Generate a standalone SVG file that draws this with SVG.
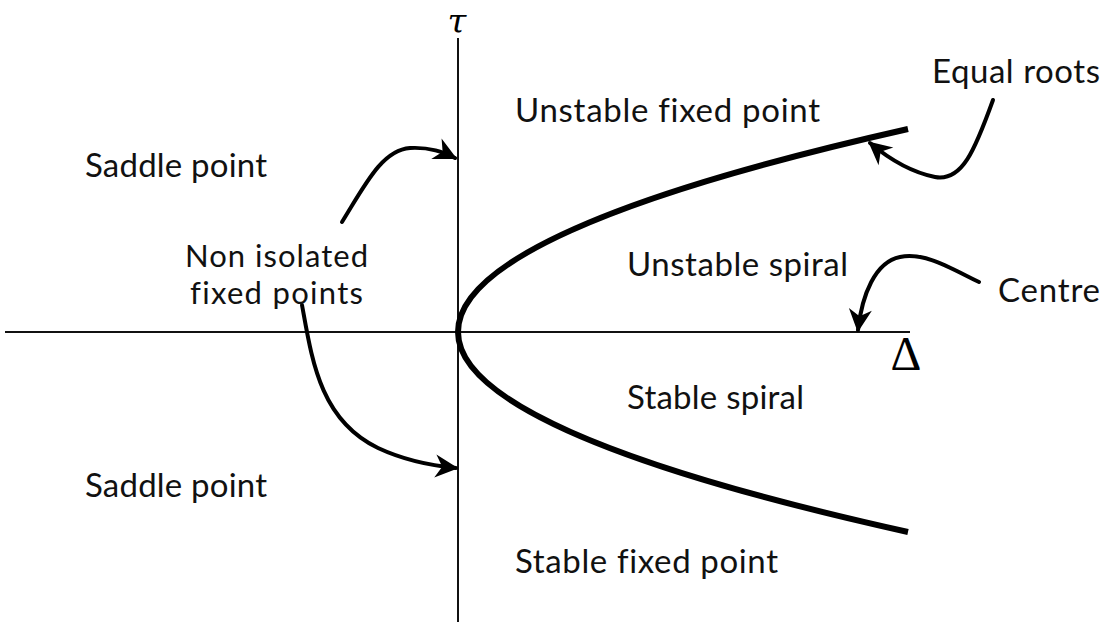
<svg xmlns="http://www.w3.org/2000/svg" width="1107" height="630" viewBox="0 0 1107 630">
<style>
.lbl{font-family:Lato,"Open Sans","Liberation Sans",sans-serif;font-size:33px;fill:#111;font-variant-ligatures:none}
.sm{font-size:31px}
.axis{stroke:#111;stroke-width:2;fill:none}
.arr{stroke:#000;stroke-width:4;fill:none;stroke-linecap:round;marker-end:url(#ah)}
</style>
<defs>
<marker id="ah" markerUnits="userSpaceOnUse" markerWidth="30" markerHeight="30" viewBox="-22 -12 26 24" refX="0" refY="0" orient="auto">
<path d="M2,0 L-18,-10 L-12,0 L-18,10 Z" fill="#000"/>
</marker>
</defs>
<rect width="1107" height="630" fill="#fff"/>
<g id="axes">
<line class="axis" x1="458" y1="38" x2="458" y2="622"/>
<line class="axis" x1="5" y1="332" x2="910" y2="332"/>
<text x="457" y="33" text-anchor="middle" style="font-family:'DejaVu Serif','Liberation Serif',serif;font-style:italic;font-size:34px">τ</text>
<text x="906" y="370" text-anchor="middle" style="font-family:'Liberation Serif','DejaVu Serif',serif;font-size:48px">Δ</text>
</g>
<g id="parabola">
<path d="M908,129 Q458,230.5 458,332 Q458,432 908,532" fill="none" stroke="#000" stroke-width="6"/>
</g>
<g id="connectors">
<path class="arr" d="M993,100 C975,150 962,182 935,177 C910,172 888,158 870,143"/>
<path class="arr" d="M979,282 C950,268 925,252 900,257 C875,262 862,295 858,330"/>
<path class="arr" d="M342,222 C365,185 382,150 410,148 C430,147 443,152 455,158"/>
<path class="arr" d="M302,305 C312,360 320,420 378,448 C408,462 435,466 456,468"/>
</g>
<g id="labels">
<text class="lbl" x="515" y="122" textLength="305">Unstable fixed point</text>
<text class="lbl" x="85" y="177" textLength="182">Saddle point</text>
<text class="lbl sm" x="185" y="267" textLength="183">Non isolated</text>
<text class="lbl sm" x="190" y="304" textLength="173">fixed points</text>
<text class="lbl" x="627" y="276" textLength="221">Unstable spiral</text>
<text class="lbl" x="998" y="302" textLength="102">Centre</text>
<text class="lbl" x="627" y="409" textLength="177">Stable spiral</text>
<text class="lbl" x="85" y="497" textLength="182">Saddle point</text>
<text class="lbl" x="515" y="573" textLength="263">Stable fixed point</text>
<text class="lbl" x="932" y="83" textLength="168">Equal roots</text>
</g>
</svg>
